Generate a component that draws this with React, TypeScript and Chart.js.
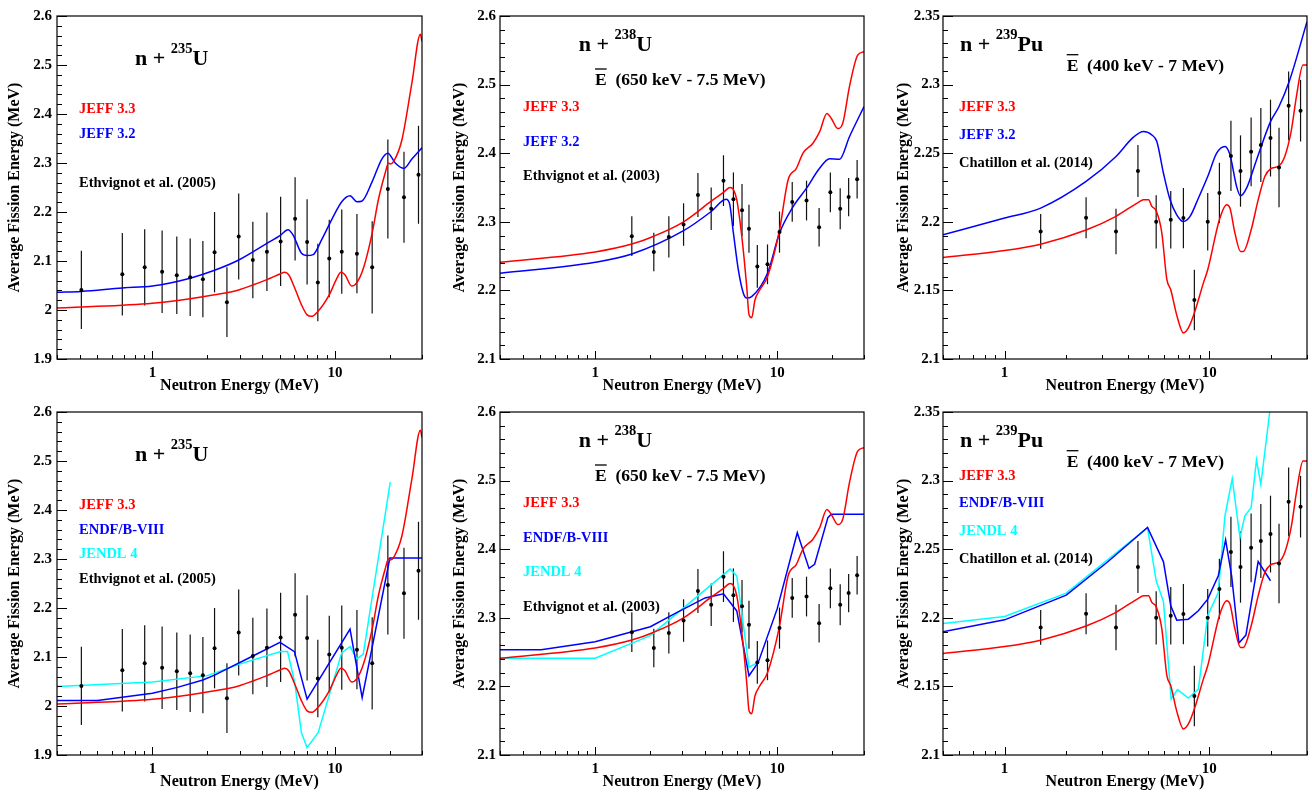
import React, { useEffect, useRef } from "react";
import { Chart, registerables } from "chart.js";
Chart.register(...registerables);

const FONT = "'Liberation Serif', 'Times New Roman', serif";
const RED = "#ff0000";
const BLUE = "#0000ff";
const CYAN = "#00ffff";

// ---------- tick labels ----------
const xTickLabels = [1, 10];
const yTicksU235 = [1.9, 2, 2.1, 2.2, 2.3, 2.4, 2.5, 2.6];
const yTicksU238 = [2.1, 2.2, 2.3, 2.4, 2.5, 2.6];
const yTicksPu239 = [2.1, 2.15, 2.2, 2.25, 2.3, 2.35];

// ---------- n + 235U ----------
const u235ExpE = [0.408, 0.684, 0.907, 1.13, 1.36, 1.61, 1.89, 2.19, 2.56, 2.97, 3.55, 4.24, 5.04, 6.05, 7.04, 8.06, 9.31, 10.9, 13.2, 16.0, 19.5, 23.9, 28.7];
const u235ExpV = [2.041, 2.073, 2.087, 2.078, 2.071, 2.067, 2.063, 2.118, 2.016, 2.150, 2.102, 2.119, 2.140, 2.186, 2.139, 2.056, 2.105, 2.119, 2.115, 2.087, 2.247, 2.230, 2.276];
const u235ExpErr = [0.080, 0.084, 0.078, 0.084, 0.079, 0.079, 0.078, 0.082, 0.071, 0.088, 0.078, 0.080, 0.091, 0.085, 0.087, 0.079, 0.079, 0.086, 0.081, 0.094, 0.101, 0.093, 0.100];

const u235Jeff33E = [0.3, 0.408, 1, 1.61, 2.19, 2.97, 3.55, 4.24, 5.04, 5.31, 5.58, 6.02, 6.55, 7.04, 7.44, 8.06, 9.31, 10.2, 10.79, 11.35, 12.35, 13.2, 14.32, 16.0, 17.3, 18.84, 19.66, 20.08, 20.95, 23.28, 26.4, 29.4, 30];
const u235Jeff33V = [2.004, 2.006, 2.014, 2.023, 2.031, 2.041, 2.051, 2.062, 2.074, 2.077, 2.072, 2.045, 2.011, 1.990, 1.987, 1.997, 2.031, 2.063, 2.077, 2.072, 2.049, 2.056, 2.085, 2.157, 2.225, 2.279, 2.300, 2.298, 2.303, 2.347, 2.463, 2.563, 2.548];

const u235Jeff32E = [0.3, 0.408, 0.684, 1, 1.61, 2.19, 2.97, 4.24, 5.04, 5.53, 5.90, 6.55, 7.04, 7.60, 8.45, 9.59, 10.9, 12.1, 13.2, 14.02, 16.0, 18.07, 19.5, 21.4, 23.9, 26.4, 30];
const u235Jeff32V = [2.036, 2.038, 2.045, 2.049, 2.065, 2.081, 2.102, 2.136, 2.153, 2.164, 2.153, 2.116, 2.111, 2.113, 2.143, 2.184, 2.221, 2.233, 2.221, 2.222, 2.262, 2.308, 2.320, 2.300, 2.289, 2.308, 2.331];

const u235EndfE = [0.3, 0.5, 1, 1.37, 1.89, 2.19, 3.55, 5.0, 6.0, 7.04, 12.1, 14.1, 20.0, 30];
const u235EndfV = [2.011, 2.011, 2.026, 2.038, 2.053, 2.063, 2.102, 2.130, 2.111, 2.014, 2.157, 2.017, 2.302, 2.302];

const u235JendlE = [0.3, 1, 2.0, 2.97, 5.04, 5.5, 6.02, 6.55, 7.04, 8.10, 10.9, 12.1, 13.2, 14.3, 20.1];
const u235JendlV = [2.040, 2.049, 2.062, 2.085, 2.111, 2.111, 2.048, 1.946, 1.915, 1.946, 2.109, 2.121, 2.096, 2.106, 2.457];

// ---------- n + 238U ----------
const u238ExpE = [1.59, 2.10, 2.54, 3.06, 3.67, 4.34, 5.07, 5.75, 6.41, 7.0, 7.78, 8.85, 10.3, 12.1, 14.5, 17.0, 19.6, 22.2, 24.7, 27.5];
const u238ExpV = [2.279, 2.256, 2.278, 2.296, 2.339, 2.319, 2.360, 2.333, 2.317, 2.290, 2.235, 2.238, 2.285, 2.329, 2.331, 2.292, 2.343, 2.319, 2.336, 2.362];
const u238ExpErr = [0.029, 0.028, 0.030, 0.031, 0.032, 0.031, 0.037, 0.039, 0.038, 0.035, 0.031, 0.029, 0.030, 0.029, 0.029, 0.028, 0.029, 0.030, 0.028, 0.028];

const u238Jeff33E = [0.3, 1, 1.59, 2.10, 3.06, 4.34, 5.07, 5.51, 5.75, 6.00, 6.39, 6.80, 7.0, 7.24, 7.55, 8.04, 8.85, 10.3, 11.48, 12.76, 13.87, 15.73, 17.1, 18.76, 19.81, 21.54, 22.95, 24.96, 27.7, 30];
const u238Jeff33V = [2.241, 2.256, 2.2675, 2.279, 2.300, 2.330, 2.343, 2.350, 2.347, 2.332, 2.279, 2.206, 2.165, 2.160, 2.186, 2.201, 2.220, 2.288, 2.361, 2.378, 2.400, 2.4146, 2.431, 2.458, 2.451, 2.436, 2.444, 2.497, 2.543, 2.548];

const u238Jeff32E = [0.3, 1, 1.59, 3.06, 4.34, 5.24, 5.47, 5.75, 6.12, 6.52, 6.80, 7.24, 8.85, 10.3, 12.1, 14.5, 17.1, 19.4, 22.0, 24.96, 30];
const u238Jeff32V = [2.225, 2.241, 2.253, 2.287, 2.315, 2.333, 2.327, 2.2835, 2.230, 2.196, 2.189, 2.191, 2.225, 2.2835, 2.320, 2.349, 2.378, 2.392, 2.391, 2.424, 2.468];

const u238EndfE = [0.3, 0.505, 1, 2.01, 2.82, 4.02, 5.07, 6.0, 7.0, 7.87, 10.0, 12.9, 14.96, 16.06, 19.0, 19.8, 30];
const u238EndfV = [2.2534, 2.2534, 2.265, 2.287, 2.308, 2.329, 2.335, 2.310, 2.2155, 2.235, 2.313, 2.424, 2.372, 2.378, 2.446, 2.451, 2.451];

const u238JendlE = [0.3, 1, 2.01, 5.51, 6.0, 7.0, 7.87];
const u238JendlV = [2.241, 2.241, 2.274, 2.371, 2.361, 2.228, 2.235];

// ---------- n + 239Pu ----------
const pu239ExpE = [1.50, 2.50, 3.50, 4.48, 5.50, 6.48, 7.47, 8.45, 9.82, 11.2, 12.75, 14.2, 16.0, 17.85, 19.9, 21.9, 24.4, 27.9];
const pu239ExpV = [2.193, 2.203, 2.193, 2.237, 2.200, 2.2015, 2.2027, 2.143, 2.200, 2.221, 2.248, 2.237, 2.251, 2.256, 2.261, 2.2396, 2.2845, 2.281];
const pu239ExpErr = [0.0127, 0.0149, 0.0166, 0.019, 0.0194, 0.021, 0.022, 0.022, 0.021, 0.022, 0.0256, 0.026, 0.025, 0.027, 0.028, 0.029, 0.025, 0.0225];

const pu239Jeff33E = [0.5, 1, 1.50, 2.50, 3.50, 4.48, 4.77, 5.05, 5.24, 5.50, 5.86, 6.20, 6.48, 6.93, 7.47, 7.90, 8.45, 9.35, 9.82, 11.2, 12.15, 12.61, 13.34, 14.2, 14.64, 16.0, 17.32, 18.67, 19.9, 21.9, 23.36, 25.18, 26.63, 28.7, 30];
const pu239Jeff33V = [2.174, 2.179, 2.1837, 2.194, 2.204, 2.214, 2.216, 2.216, 2.2112, 2.208, 2.192, 2.158, 2.1505, 2.132, 2.119, 2.1226, 2.1335, 2.1553, 2.165, 2.2015, 2.2124, 2.210, 2.1917, 2.1784, 2.1784, 2.194, 2.216, 2.233, 2.2386, 2.2408, 2.2476, 2.267, 2.2913, 2.3143, 2.3143];

const pu239Jeff32E = [0.5, 1, 1.5, 2.5, 3.5, 4.26, 4.77, 5.24, 5.54, 5.97, 6.43, 6.93, 7.47, 8.05, 8.84, 9.82, 10.86, 11.92, 12.61, 13.59, 14.2, 15.2, 17.0, 19.9, 21.9, 24.7, 30];
const pu239Jeff32V = [2.1905, 2.2027, 2.210, 2.2294, 2.2476, 2.2617, 2.2658, 2.2633, 2.2585, 2.2354, 2.216, 2.2051, 2.2002, 2.2039, 2.2172, 2.233, 2.25, 2.2549, 2.2488, 2.2257, 2.2189, 2.2245, 2.2451, 2.273, 2.284, 2.3034, 2.3459];

const pu239EndfE = [0.5, 1, 2.0, 3.16, 4.99, 5.97, 6.48, 6.93, 7.9, 8.84, 9.82, 11.06, 12.01, 12.85, 13.95, 15.09, 17.32, 19.9];
const pu239EndfV = [2.1898, 2.1985, 2.2165, 2.2403, 2.2658, 2.2408, 2.2087, 2.1983, 2.199, 2.2051, 2.2136, 2.2306, 2.2568, 2.2306, 2.1816, 2.1874, 2.241, 2.227];

const pu239JendlE = [0.5, 1, 2.0, 4.99, 5.5, 5.97, 6.51, 6.99, 7.9, 8.84, 9.82, 11.06, 11.92, 12.94, 14.11, 14.92, 16.0, 17.0, 17.85, 19.75, 20.5];
const pu239JendlV = [2.1959, 2.201, 2.218, 2.2658, 2.227, 2.2117, 2.1408, 2.1476, 2.1415, 2.148, 2.2015, 2.2184, 2.2743, 2.3015, 2.2585, 2.2743, 2.2803, 2.315, 2.2973, 2.3507, 2.364];

// ---------- texts ----------
const legendTop = ["JEFF 3.3", "JEFF 3.2"];
const legendBottom = ["JEFF 3.3", "ENDF/B-VIII", "JENDL 4"];
const expU235 = "Ethvignot et al. (2005)";
const expU238 = "Ethvignot et al. (2003)";
const expPu239 = "Chatillon et al. (2014)";

type Series = { e: number[]; v: number[]; color: string; smooth: boolean };
type Legend = { text: string; color: string; y: number };
type Panel = {
  left: number; top: number; width: number; height: number;
  chartLeft: number; chartRight: number; chartTop: number; chartBottom: number;
  xMin: number; xMax: number; yMin: number; yMax: number; yTicks: number[]; yMinor: number;
  titlePad: number; tickPad: number;
  series: Series[];
  exp: { e: number[]; v: number[]; err: number[] };
  target: { x: number; base: number; sup: string; sym: string };
  ebar: { x: number; base: number; text: string } | null;
  legendX: number; legend: Legend[];
};

const S = (e: number[], v: number[], color: string, smooth: boolean): Series => ({ e, v, color, smooth });

const panels: Panel[] = [
  {
    left: 0, top: 0, width: 437, height: 396, chartLeft: 57, chartRight: 422, chartTop: 16, chartBottom: 359,
    xMin: 0.3, xMax: 30, yMin: 1.9, yMax: 2.6, yTicks: yTicksU235, yMinor: 0.02, titlePad: 5, tickPad: 5,
    series: [S(u235Jeff33E, u235Jeff33V, RED, true), S(u235Jeff32E, u235Jeff32V, BLUE, true)],
    exp: { e: u235ExpE, v: u235ExpV, err: u235ExpErr },
    target: { x: 135, base: 65, sup: "235", sym: "U" }, ebar: null,
    legendX: 79,
    legend: [{ text: legendTop[0], color: RED, y: 109 }, { text: legendTop[1], color: BLUE, y: 134 }, { text: expU235, color: "#000", y: 183 }],
  },
  {
    left: 437, top: 0, width: 437, height: 396, chartLeft: 63, chartRight: 427, chartTop: 16, chartBottom: 359,
    xMin: 0.3, xMax: 30, yMin: 2.1, yMax: 2.6, yTicks: yTicksU238, yMinor: 0.02, titlePad: 13, tickPad: 4,
    series: [S(u238Jeff33E, u238Jeff33V, RED, true), S(u238Jeff32E, u238Jeff32V, BLUE, true)],
    exp: { e: u238ExpE, v: u238ExpV, err: u238ExpErr },
    target: { x: 141.7, base: 51, sup: "238", sym: "U" },
    ebar: { x: 158, base: 85, text: "(650 keV - 7.5 MeV)" },
    legendX: 86,
    legend: [{ text: legendTop[0], color: RED, y: 107 }, { text: legendTop[1], color: BLUE, y: 142 }, { text: expU238, color: "#000", y: 176 }],
  },
  {
    left: 874, top: 0, width: 438, height: 396, chartLeft: 69, chartRight: 433, chartTop: 16, chartBottom: 359,
    xMin: 0.5, xMax: 30, yMin: 2.1, yMax: 2.35, yTicks: yTicksPu239, yMinor: 0.01, titlePad: 20, tickPad: 3,
    series: [S(pu239Jeff33E, pu239Jeff33V, RED, true), S(pu239Jeff32E, pu239Jeff32V, BLUE, true)],
    exp: { e: pu239ExpE, v: pu239ExpV, err: pu239ExpErr },
    target: { x: 86, base: 51, sup: "239", sym: "Pu" },
    ebar: { x: 192.7, base: 70.7, text: "(400 keV - 7 MeV)" },
    legendX: 85,
    legend: [{ text: legendTop[0], color: RED, y: 107 }, { text: legendTop[1], color: BLUE, y: 135 }, { text: expPu239, color: "#000", y: 163 }],
  },
  {
    left: 0, top: 396, width: 437, height: 396, chartLeft: 57, chartRight: 422, chartTop: 16, chartBottom: 359,
    xMin: 0.3, xMax: 30, yMin: 1.9, yMax: 2.6, yTicks: yTicksU235, yMinor: 0.02, titlePad: 5, tickPad: 5,
    series: [S(u235Jeff33E, u235Jeff33V, RED, true), S(u235EndfE, u235EndfV, BLUE, false), S(u235JendlE, u235JendlV, CYAN, false)],
    exp: { e: u235ExpE, v: u235ExpV, err: u235ExpErr },
    target: { x: 135, base: 65, sup: "235", sym: "U" }, ebar: null,
    legendX: 79,
    legend: [{ text: legendBottom[0], color: RED, y: 109 }, { text: legendBottom[1], color: BLUE, y: 134 }, { text: legendBottom[2], color: CYAN, y: 158 }, { text: expU235, color: "#000", y: 183 }],
  },
  {
    left: 437, top: 396, width: 437, height: 396, chartLeft: 63, chartRight: 427, chartTop: 16, chartBottom: 359,
    xMin: 0.3, xMax: 30, yMin: 2.1, yMax: 2.6, yTicks: yTicksU238, yMinor: 0.02, titlePad: 13, tickPad: 4,
    series: [S(u238Jeff33E, u238Jeff33V, RED, true), S(u238EndfE, u238EndfV, BLUE, false), S(u238JendlE, u238JendlV, CYAN, false)],
    exp: { e: u238ExpE, v: u238ExpV, err: u238ExpErr },
    target: { x: 141.7, base: 51, sup: "238", sym: "U" },
    ebar: { x: 158, base: 85, text: "(650 keV - 7.5 MeV)" },
    legendX: 86,
    legend: [{ text: legendBottom[0], color: RED, y: 107 }, { text: legendBottom[1], color: BLUE, y: 142 }, { text: legendBottom[2], color: CYAN, y: 176 }, { text: expU238, color: "#000", y: 211 }],
  },
  {
    left: 874, top: 396, width: 438, height: 396, chartLeft: 69, chartRight: 433, chartTop: 16, chartBottom: 359,
    xMin: 0.5, xMax: 30, yMin: 2.1, yMax: 2.35, yTicks: yTicksPu239, yMinor: 0.01, titlePad: 20, tickPad: 3,
    series: [S(pu239Jeff33E, pu239Jeff33V, RED, true), S(pu239EndfE, pu239EndfV, BLUE, false), S(pu239JendlE, pu239JendlV, CYAN, false)],
    exp: { e: pu239ExpE, v: pu239ExpV, err: pu239ExpErr },
    target: { x: 86, base: 51, sup: "239", sym: "Pu" },
    ebar: { x: 192.7, base: 70.7, text: "(400 keV - 7 MeV)" },
    legendX: 85,
    legend: [{ text: legendBottom[0], color: RED, y: 80 }, { text: legendBottom[1], color: BLUE, y: 107 }, { text: legendBottom[2], color: CYAN, y: 135 }, { text: expPu239, color: "#000", y: 163 }],
  },
];

function decoPlugin(p: Panel) {
  return {
    id: "deco",
    beforeDatasetsDraw(chart: any) {
      const { ctx, chartArea } = chart;
      const xs = chart.scales.x;
      const ys = chart.scales.y;
      ctx.save();
      ctx.beginPath();
      ctx.rect(chartArea.left, chartArea.top, chartArea.right - chartArea.left, chartArea.bottom - chartArea.top);
      ctx.clip();
      ctx.strokeStyle = "#111";
      ctx.lineWidth = 1.2;
      p.exp.e.forEach((e, i) => {
        const x = xs.getPixelForValue(e);
        const y1 = ys.getPixelForValue(p.exp.v[i] - p.exp.err[i]);
        const y2 = ys.getPixelForValue(p.exp.v[i] + p.exp.err[i]);
        ctx.beginPath();
        ctx.moveTo(x, y1);
        ctx.lineTo(x, y2);
        ctx.stroke();
      });
      ctx.restore();
    },
    afterDraw(chart: any) {
      const { ctx, chartArea } = chart;
      const xs = chart.scales.x;
      const ys = chart.scales.y;
      const L = chartArea.left, R = chartArea.right, T = chartArea.top, B = chartArea.bottom;
      ctx.save();
      ctx.strokeStyle = "#000";
      ctx.lineWidth = 1.2;
      ctx.strokeRect(L, T, R - L, B - T);
      ctx.lineWidth = 1;
      // y ticks
      const n = Math.round((p.yMax - p.yMin) / p.yMinor);
      for (let i = 0; i <= n; i++) {
        const v = p.yMin + i * p.yMinor;
        const isMajor = p.yTicks.some((t) => Math.abs(t - v) < 1e-6);
        const y = Math.round(ys.getPixelForValue(v)) + 0.5;
        ctx.beginPath();
        ctx.moveTo(L, y);
        ctx.lineTo(L + (isMajor ? 10 : 5), y);
        ctx.stroke();
      }
      // x ticks (log)
      [0.1, 1, 10].forEach((dec) => {
        for (let k = 1; k <= 9; k++) {
          const v = dec * k;
          if (v < p.xMin - 1e-9 || v > p.xMax + 1e-9) continue;
          const x = Math.round(xs.getPixelForValue(v)) + 0.5;
          ctx.beginPath();
          ctx.moveTo(x, B);
          ctx.lineTo(x, B - (k === 1 ? 8 : 4));
          ctx.stroke();
        }
      });
      // target label  n + ^A X
      ctx.fillStyle = "#000";
      ctx.textBaseline = "alphabetic";
      ctx.textAlign = "left";
      let tx = p.target.x;
      ctx.font = `bold 22px ${FONT}`;
      ctx.fillText("n + ", tx, p.target.base);
      tx += ctx.measureText("n + ").width;
      ctx.font = `bold 14.5px ${FONT}`;
      ctx.fillText(p.target.sup, tx, p.target.base - 12);
      tx += ctx.measureText(p.target.sup).width;
      ctx.font = `bold 22px ${FONT}`;
      ctx.fillText(p.target.sym, tx, p.target.base);
      // E-bar
      if (p.ebar) {
        ctx.font = `bold 17.5px ${FONT}`;
        const ew = ctx.measureText("E").width;
        ctx.fillText("E", p.ebar.x, p.ebar.base);
        ctx.lineWidth = 1.3;
        ctx.beginPath();
        ctx.moveTo(p.ebar.x, p.ebar.base - 16);
        ctx.lineTo(p.ebar.x + ew, p.ebar.base - 16);
        ctx.stroke();
        ctx.fillText("  " + p.ebar.text, p.ebar.x + ew, p.ebar.base);
      }
      // legend texts
      ctx.font = `bold 14.5px ${FONT}`;
      ctx.textBaseline = "middle";
      p.legend.forEach((l) => {
        ctx.fillStyle = l.color;
        ctx.fillText(l.text, p.legendX, l.y);
      });
      ctx.restore();
    },
  };
}

function PanelChart({ p }: { p: Panel }) {
  const ref = useRef<HTMLCanvasElement | null>(null);
  useEffect(() => {
    if (!ref.current) return;
    const datasets: any[] = [
      {
        data: p.exp.e.map((e, i) => ({ x: e, y: p.exp.v[i] })),
        showLine: false,
        pointRadius: 2,
        pointBackgroundColor: "#000",
        pointBorderWidth: 0,
        borderColor: "#000",
      },
      ...p.series.map((s) => ({
        data: s.e.map((e, i) => ({ x: e, y: s.v[i] })),
        borderColor: s.color,
        borderWidth: 1.5,
        pointRadius: 0,
        fill: false,
        tension: 0,
        cubicInterpolationMode: s.smooth ? "monotone" : "default",
      })),
    ];
    const chart = new Chart(ref.current, {
      type: "line",
      data: { datasets },
      options: {
        animation: false,
        responsive: false,
        events: [],
        layout: { padding: { left: 0, top: p.chartTop, right: p.width - p.chartRight, bottom: 0 } },
        plugins: { legend: { display: false }, tooltip: { enabled: false } },
        scales: {
          x: {
            type: "logarithmic",
            min: p.xMin,
            max: p.xMax,
            grid: { display: false, drawTicks: false },
            border: { display: false },
            afterBuildTicks: (scale: any) => {
              scale.ticks = xTickLabels.map((v) => ({ value: v }));
            },
            afterFit: (scale: any) => {
              scale.height = p.height - p.chartBottom;
            },
            ticks: {
              autoSkip: false,
              maxRotation: 0,
              padding: 5,
              color: "#000",
              font: { family: FONT, size: 15, weight: "bold" },
              callback: (v: any) => String(v),
            },
            title: {
              display: true,
              text: "Neutron Energy (MeV)",
              color: "#000",
              font: { family: FONT, size: 16, weight: "bold" },
              padding: { top: 0, bottom: 1 },
            },
          },
          y: {
            type: "linear",
            min: p.yMin,
            max: p.yMax,
            grid: { display: false, drawTicks: false },
            border: { display: false },
            afterBuildTicks: (scale: any) => {
              scale.ticks = p.yTicks.map((v) => ({ value: v }));
            },
            afterFit: (scale: any) => {
              scale.width = p.chartLeft;
            },
            ticks: {
              autoSkip: false,
              padding: p.tickPad,
              color: "#000",
              font: { family: FONT, size: 15, weight: "bold" },
              callback: (v: any) => String(Number(Number(v).toFixed(3))),
            },
            title: {
              display: true,
              text: "Average Fission Energy (MeV)",
              color: "#000",
              font: { family: FONT, size: 16, weight: "bold" },
              padding: { top: p.titlePad, bottom: 0 },
            },
          },
        },
      } as any,
      plugins: [decoPlugin(p)],
    });
    return () => chart.destroy();
  }, [p]);
  return (
    <canvas
      ref={ref}
      width={p.width}
      height={p.height}
      style={{ position: "absolute", left: p.left, top: p.top, width: p.width, height: p.height }}
    />
  );
}

export default function App() {
  return (
    <div style={{ position: "fixed", left: 0, top: 0, width: 1312, height: 792, background: "#fff", overflow: "hidden" }}>
      {panels.map((p, i) => (
        <PanelChart key={i} p={p} />
      ))}
    </div>
  );
}
